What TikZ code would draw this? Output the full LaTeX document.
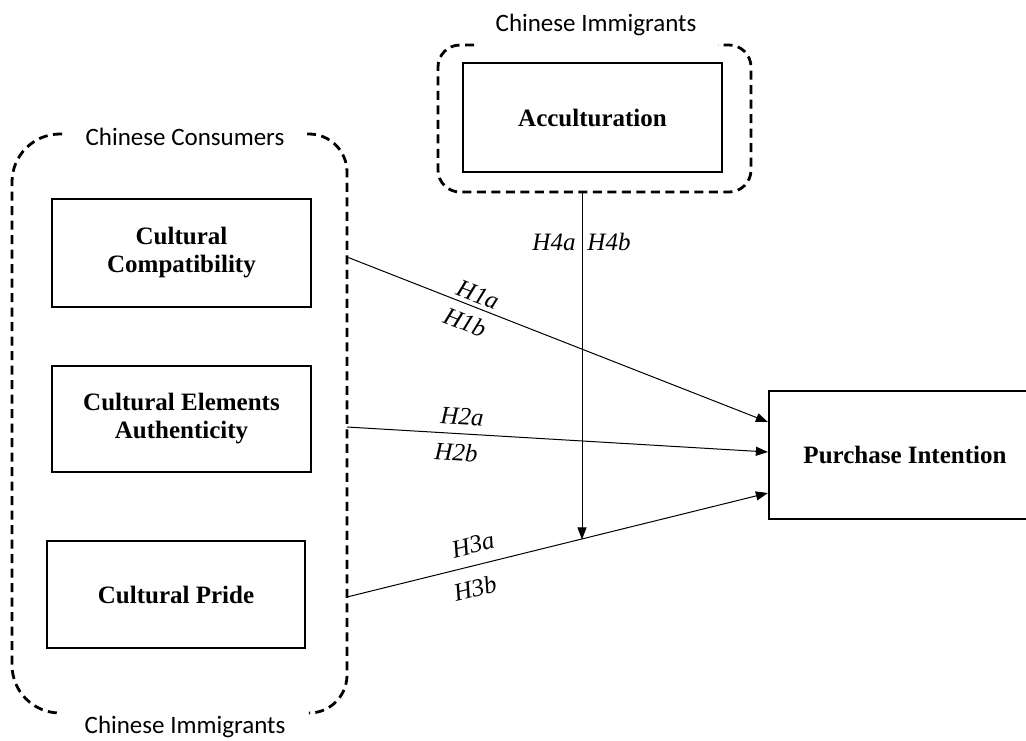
\documentclass[tikz,border=0pt]{standalone}
\usepackage{fontspec}
\setmainfont{Liberation Serif}
\newfontfamily\grpfont{Carlito}
\usetikzlibrary{arrows.meta}

\begin{document}
\begin{tikzpicture}[
    x=1pt,y=-1pt,
    box/.style={draw,rectangle,line width=2.2pt,align=center,
      font=\fontsize{25}{28}\selectfont\bfseries},
    grp/.style={font=\fontsize{25}{28}\selectfont\grpfont,inner sep=0pt},
    hyp/.style={font=\fontsize{25}{28}\selectfont\itshape,inner sep=0pt},
    frame/.style={line width=2.8pt,dash pattern=on 9pt off 5.5pt},
    arr/.style={line width=1pt,-{Triangle[length=12pt,width=9pt]}}
    ]
    \useasboundingbox (0,0) rectangle (1026,740);
    % constructs
    \node[box,minimum width=259,minimum height=108] (cc) at (181.5,253) {Cultural\\Compatibility};
    \node[box,minimum width=259,minimum height=106] (cea) at (181.5,419) {Cultural Elements\\Authenticity};
    \node[box,minimum width=258,minimum height=107] (cp) at (176,594.5) {Cultural Pride};
    \node[box,minimum width=259,minimum height=109] (acc) at (592.5,117.5) {Acculturation};
    \node[box,minimum width=272,minimum height=128] (pi) at (905,455) {Purchase Intention};
    % groups
    \draw[frame,rounded corners=48] (62,134) -- (12,134) -- (12,713) -- (62,713);
    \draw[frame,rounded corners=38] (307,134) -- (347,134) -- (347,713) -- (310,713);
    \draw[frame,rounded corners=22] (474,45) -- (438,45) -- (438,192) -- (751,192) -- (751,45) -- (718,45);
    \node[grp] (g1) at (185,137) {Chinese Consumers};
    \node[grp] (g2) at (185,727) {Chinese Immigrants};
    \node[grp] (g3) at (596,25) {Chinese Immigrants};
    % paths
    \coordinate (s1) at (347,257);
    \coordinate (s2) at (347,427);
    \coordinate (s3) at (347,597);
    \coordinate (e1) at (pi.west |- 0,422);
    \coordinate (e2) at (pi.west |- 0,452);
    \coordinate (e3) at (pi.west |- 0,493);
    \coordinate (accb) at (582,192);
    \draw[arr] (s1) -- (e1);
    \draw[arr] (s2) -- (e2);
    \draw[arr] (s3) -- (e3) coordinate[pos=0.5534] (m3);
    \draw[arr] (accb) -- (accb |- m3);
    % hypotheses
    \node[hyp,rotate=-21.4] (h1a) at (478,295) {H1a};
    \node[hyp,rotate=-21.4] (h1b) at (465,322) {H1b};
    \node[hyp,rotate=-3.4] (h2a) at (462,417) {H2a};
    \node[hyp,rotate=-3.4] (h2b) at (456,452) {H2b};
    \node[hyp,rotate=13.9] (h3a) at (473,545) {H3a};
    \node[hyp,rotate=13.9] (h3b) at (475,588) {H3b};
    \node[hyp] (h4a) at (554,242) {H4a};
    \node[hyp] (h4b) at (609,242) {H4b};
\end{tikzpicture}
\end{document}
